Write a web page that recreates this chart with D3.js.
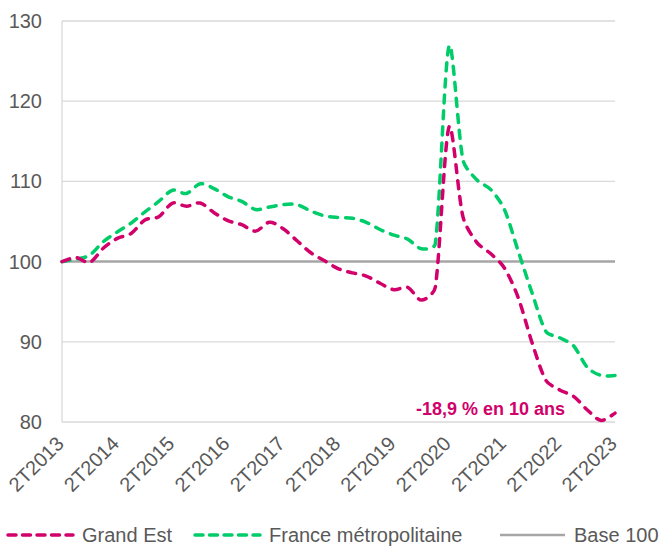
<!DOCTYPE html>
<html>
<head>
<meta charset="utf-8">
<script src="https://cdn.jsdelivr.net/npm/d3@7"></script>
<style>
  body { margin: 0; background: #fff; }
  svg text { font-family: "Liberation Sans", Arial, sans-serif; }
</style>
</head>
<body>
<svg id="chart" width="662" height="547"></svg>
<script>
// quarterly index, base 100 at 2T2013
var quarters = ["2T2013","3T2013","4T2013","1T2014","2T2014","3T2014","4T2014","1T2015",
  "2T2015","3T2015","4T2015","1T2016","2T2016","3T2016","4T2016","1T2017",
  "2T2017","3T2017","4T2017","1T2018","2T2018","3T2018","4T2018","1T2019",
  "2T2019","3T2019","4T2019","1T2020","2T2020","3T2020","4T2020","1T2021",
  "2T2021","3T2021","4T2021","1T2022","2T2022","3T2022","4T2022","1T2023","2T2023"];

var grandEst = [100, 100.5, 99.9, 101.7, 102.9, 103.5, 105.2, 105.6, 107.3, 106.9,
  107.3, 106.1, 105.1, 104.6, 103.8, 104.9, 104.1, 102.6, 101.1, 100.1,
  99.1, 98.6, 98.2, 97.3, 96.5, 96.8, 95.2, 96.8, 116.8, 105.6,
  102.4, 101.0, 99.2, 95.5, 89.9, 85.2, 84.0, 83.2, 81.5, 80.2, 81.1];

var franceMetro = [100, 100.3, 100.8, 102.5, 103.7, 104.8, 106.2, 107.5, 108.9, 108.5,
  109.7, 109.1, 108.1, 107.5, 106.5, 106.8, 107.1, 107.1, 106.3, 105.7,
  105.5, 105.4, 104.9, 104.0, 103.3, 102.8, 101.6, 102.2, 126.9, 112.7,
  110.2, 109.0, 106.5, 101.3, 96.1, 91.3, 90.5, 89.5, 86.8, 85.8, 85.8];

var base = 100;
var yTicks = [80, 90, 100, 110, 120, 130];
var xTickLabels = ["2T2013","2T2014","2T2015","2T2016","2T2017","2T2018","2T2019","2T2020","2T2021","2T2022","2T2023"];
var annotation = "-18,9 % en 10 ans";

var svg = d3.select("#chart");
var red = "#D1006A", green = "#00CC6A", grey = "#595959";

var x = d3.scalePoint().domain(quarters).range([62, 615]);
var y = d3.scaleLinear().domain([80, 130]).range([422, 21]);

// gridlines
svg.append("g").selectAll("line")
  .data(yTicks.filter(d => d != base))
  .enter().append("line")
  .attr("x1", 62).attr("x2", 615)
  .attr("y1", d => y(d)).attr("y2", d => y(d))
  .style("stroke", "#D9D9D9").style("stroke-width", 1.3);

svg.append("line")
  .attr("x1", 62).attr("x2", 62).attr("y1", y(130)).attr("y2", y(80))
  .style("stroke", "#D9D9D9").style("stroke-width", 1.3);

// y labels
svg.append("g").selectAll("text")
  .data(yTicks)
  .enter().append("text")
  .attr("x", 42).attr("y", d => y(d))
  .attr("dy", "0.35em")
  .attr("text-anchor", "end")
  .style("font-size", "20px").style("fill", grey)
  .text(d => d);

// x labels
svg.append("g").selectAll("text")
  .data(xTickLabels)
  .enter().append("text")
  .attr("transform", d => `translate(${x(d) + 3},${445}) rotate(-45)`)
  .attr("text-anchor", "end")
  .style("font-size", "20px").style("fill", grey)
  .text(d => d);

// base 100
svg.append("line")
  .attr("x1", 62).attr("x2", 615).attr("y1", y(base)).attr("y2", y(base))
  .style("stroke", "#A6A6A6").style("stroke-width", 2.5);

// excel-like smoothing: catmull-rom tangent, shortened on the short side
function smoothPath(values) {
  var pts = values.map((v, i) => [x(quarters[i]), y(v)]);
  var n = pts.length;
  var len = (a, b) => Math.hypot(b[0] - a[0], b[1] - a[1]);
  var cps = pts.map(function (p, i) {
    var a = pts[Math.max(i - 1, 0)], b = pts[Math.min(i + 1, n - 1)];
    var tx = (b[0] - a[0]) / 6, ty = (b[1] - a[1]) / 6;
    var lp = i > 0 ? len(a, p) : 0, ln = i < n - 1 ? len(p, b) : 0;
    var s = lp + ln;
    var kb = s ? Math.min(1, 2 * lp / s) : 0, ka = s ? Math.min(1, 2 * ln / s) : 0;
    return {before: [p[0] - tx * kb, p[1] - ty * kb], after: [p[0] + tx * ka, p[1] + ty * ka]};
  });
  var path = d3.path();
  path.moveTo(pts[0][0], pts[0][1]);
  for (var i = 0; i < n - 1; i++) {
    path.bezierCurveTo(cps[i].after[0], cps[i].after[1],
      cps[i + 1].before[0], cps[i + 1].before[1], pts[i + 1][0], pts[i + 1][1]);
  }
  return path.toString();
}

svg.append("path")
  .attr("d", smoothPath(franceMetro))
  .style("fill", "none").style("stroke", green).style("stroke-width", 3.5)
  .style("stroke-linecap", "round").style("stroke-dasharray", "8 8");

svg.append("path")
  .attr("d", smoothPath(grandEst))
  .style("fill", "none").style("stroke", red).style("stroke-width", 3.5)
  .style("stroke-linecap", "round").style("stroke-dasharray", "8 8");

svg.append("text")
  .attr("x", 565).attr("y", 415)
  .attr("text-anchor", "end")
  .style("font-size", "18px").style("font-weight", "bold").style("fill", red)
  .text(annotation);

// legend
var legendItems = [
  {name: "Grand Est", color: red, x: 6, dash: true},
  {name: "France métropolitaine", color: green, x: 193, dash: true},
  {name: "Base 100", color: "#A6A6A6", x: 498, dash: false}
];
var lg = svg.append("g").selectAll("g").data(legendItems).enter().append("g");
lg.append("line")
  .attr("x1", d => d.x + 2).attr("x2", d => d.x + 67)
  .attr("y1", 535).attr("y2", 535)
  .style("stroke", d => d.color)
  .style("stroke-width", d => d.dash ? 3.5 : 2.5)
  .style("stroke-linecap", d => d.dash ? "round" : "butt")
  .style("stroke-dasharray", d => d.dash ? "8 6.5" : null);
lg.append("text")
  .attr("x", d => d.x + 76).attr("y", 542)
  .style("font-size", "20px").style("fill", grey)
  .text(d => d.name);
</script>
</body>
</html>
